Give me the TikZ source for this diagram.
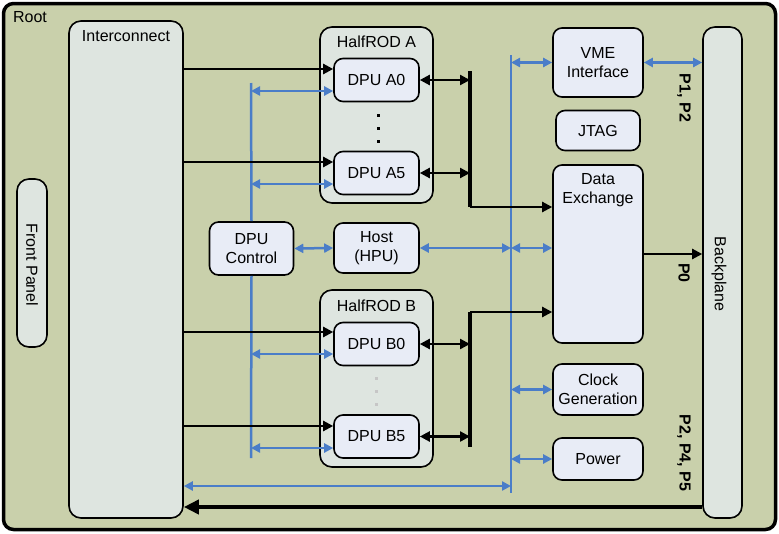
\documentclass[tikz,border=0pt]{standalone}
\usepackage{fontspec}
\setmainfont{Liberation Sans}
\usetikzlibrary{arrows.meta,positioning}

\definecolor{rootfill}{RGB}{201,208,171}
\definecolor{panelfill}{RGB}{222,229,224}
\definecolor{boxfill}{RGB}{232,236,246}
\definecolor{busblue}{RGB}{74,125,200}

\begin{document}
\begin{tikzpicture}[
x=1pt, y=-1pt,
font=\fontsize{16}{19.5}\selectfont,
every node/.style={align=center},
unit/.style={
draw,
line width=1.6pt,
rounded corners=9pt,
fill=boxfill,
inner sep=0pt
},
panel/.style={
draw,
line width=1.6pt,
rounded corners=12pt,
fill=panelfill,
inner sep=0pt
},
dpu/.style={unit, minimum width=85pt, minimum height=43pt},
side/.style={unit, minimum width=90pt},
blk/.style={line width=2.3pt, -{Triangle[length=10pt,width=10pt]}},
blk2/.style={line width=2.3pt, {Triangle[length=10pt,width=10pt]}-{Triangle[length=10pt,width=10pt]}},
blu/.style={busblue, line width=2.5pt},
blu2/.style={blu, {Triangle[length=9pt,width=9pt]}-{Triangle[length=9pt,width=9pt]}},
plabel/.style={font=\fontsize{16}{19.5}\selectfont\bfseries, rotate=-90}
]
\useasboundingbox (0,0) rectangle (779,533);

% frame
\node[draw, line width=3.5pt, rounded corners=10pt, fill=rootfill,
minimum width=772pt, minimum height=526pt] (Root) at (389.5,266.5) {};
\node (rootlbl) at (30,17) {Root};

% panels
\node[panel, minimum width=114pt, minimum height=497pt] (Inter) at (126,269.5) {};
\node (interlbl) at (126,36) {Interconnect};

\node[panel, minimum width=30pt, minimum height=168pt] (Front) at (32,263) {};
\node[rotate=-90] (frontlbl) at (32,265) {Front Panel};

\node[panel, minimum width=39pt, minimum height=491pt] (Back) at (722.5,272.5) {};
\node[rotate=-90] (backlbl) at (719,274) {Backplane};

\node[panel, minimum width=113pt, minimum height=176pt] (RodA) at (376.5,115) {};
\node (rodalbl) at (376.5,42) {HalfROD A};

\node[panel, minimum width=113pt, minimum height=177pt] (RodB) at (376.5,378.5) {};
\node (rodblbl) at (376.5,306) {HalfROD B};

% processing units
\node[dpu] (A0) at (376.5,80) {DPU A0};
\node[dpu] (A5) at (376.5,173) {DPU A5};
\node[dpu] (B0) at (376.5,344) {DPU B0};
\node[dpu] (B5) at (376.5,436.5) {DPU B5};

\foreach \y in {114,127,140}
  \fill (376.5,\y) rectangle +(3.2,3.2);
\foreach \y in {377,390,403}
  \fill[gray!45] (375,\y) rectangle +(3.2,3.2);

\node[unit, minimum width=84pt, minimum height=53pt] (Ctrl) at (251.5,248.5) {DPU\\Control};
\node[dpu, minimum height=50pt] (Host) at (376.5,248) {Host\\(HPU)};

\node[side, minimum height=69pt] (VME) at (598,62.5) {VME\\Interface};
\node[unit, minimum width=84pt, minimum height=40pt] (JTAG) at (598,130.5) {JTAG};
\node[side, minimum height=178pt] (DE) at (598,254) {};
\node (delbl) at (598,190) {Data\\Exchange};
\node[side, minimum height=51pt] (Clock) at (598,389.5) {Clock\\Generation};
\node[side, minimum height=42pt] (Power) at (598,459) {Power};

% connector labels
\node[plabel] (p12) at (684,98) {P1, P2};
\node[plabel] (p0) at (684,273) {P0};
\node[plabel] (p245) at (684,453) {P2, P4, P5};

% bus ends
\coordinate (busAtop) at (251,83);
\coordinate (busAbot) at (251,458);
\coordinate (busBtop) at (511,55);
\coordinate (busBbot) at (511,493);
\coordinate (joinA) at (470,71);
\coordinate (joinB) at (470,447);

% blue buses
\draw[blu] (busAtop) -- (Ctrl.north);
\draw[blu] (Ctrl.south) -- (busAbot);
\draw[blu] (busBtop) -- (busBbot);

\draw[blu2] (busAtop |- 0,91) -- (A0.west |- 0,91);
\draw[blu2] (busAtop |- 0,184) -- (A5.west |- 0,184);
\draw[blu2] (busAtop |- 0,354) -- (B0.west |- 0,354);
\draw[blu2] (busAtop |- 0,448) -- (B5.west |- 0,448);

\draw[blu2] (Ctrl.east) -- (Host.west);
\draw[blu2] (Host.east) -- (busBtop |- Host.east);
\draw[blu2] (busBtop |- 0,248) -- (DE.west |- 0,248);
\draw[blu2] (busBtop |- VME.west) -- (VME.west);
\draw[blu2] (VME.east) -- (Back.west |- VME.east);
\draw[blu2] (busBtop |- Clock.west) -- (Clock.west);
\draw[blu2] (busBtop |- Power.west) -- (Power.west);
\draw[blu2] (Inter.east |- 0,486) -- (busBbot |- 0,486);

% black links
\draw[blk] (Inter.east |- 0,69) -- (A0.west |- 0,69);
\draw[blk] (Inter.east |- 0,162) -- (A5.west |- 0,162);
\draw[blk] (Inter.east |- 0,332) -- (B0.west |- 0,332);
\draw[blk] (Inter.east |- 0,426) -- (B5.west |- 0,426);

\draw[blk2] (A0.east) -- (A0.east -| joinA);
\draw[blk2] (A5.east) -- (A5.east -| joinA);
\draw[blk2] (B0.east) -- (B0.east -| joinB);
\draw[blk2] (B5.east) -- (B5.east -| joinB);

\draw[line width=3.2pt] (joinA) -- (joinA |- 0,207);
\draw[blk] (joinA |- 0,207) -- (DE.west |- 0,207);
\draw[line width=3.2pt] (joinB) -- (joinB |- 0,312);
\draw[blk] (joinB |- 0,312) -- (DE.west |- 0,312);

\draw[blk] (DE.east |- 0,254) -- (Back.west |- 0,254);
\draw[line width=4.5pt, -{Triangle[length=15pt,width=14pt]}] (Back.west |- 0,507) -- (Inter.east |- 0,507);

\end{tikzpicture}
\end{document}
